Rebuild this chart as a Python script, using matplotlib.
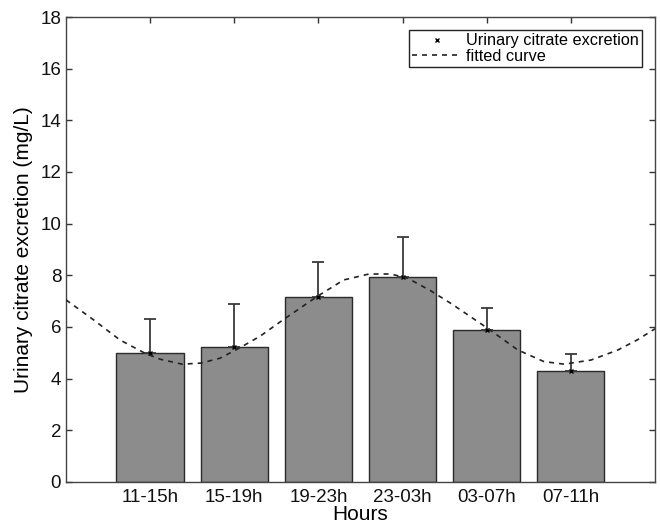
import numpy as np
import matplotlib
matplotlib.use('Agg')
import matplotlib.pyplot as plt

plt.rcParams['font.family'] = ['Liberation Sans', 'DejaVu Sans']

# bar data
hours = ['11-15h', '15-19h', '19-23h', '23-03h', '03-07h', '07-11h']
citrate_mean = [5.00, 5.24, 7.17, 7.95, 5.88, 4.29]
citrate_err = [1.30, 1.66, 1.35, 1.53, 0.84, 0.68]

# fitted curve, points
curve_x = [0.0, 0.33, 0.64, 0.94, 1.12, 1.38, 1.60, 1.83, 2.07, 2.31, 2.59, 2.98, 3.30,
           3.60, 3.86, 4.06, 4.33, 4.59, 5.01, 5.37, 5.68, 5.92, 6.24, 6.56, 6.79, 7.0]
curve_y = [7.05, 6.27, 5.50, 4.98, 4.75, 4.56, 4.60, 4.79, 5.20, 5.65, 6.30, 7.17, 7.82,
           8.05, 8.05, 7.89, 7.41, 6.88, 5.95, 5.11, 4.66, 4.56, 4.72, 5.11, 5.50, 5.93]

fig = plt.figure(figsize=(6.6, 5.25), dpi=100)
ax = fig.add_axes([0.1, 0.082, 0.8924, 0.8856])

x = np.arange(1, len(hours) + 1)
ax.bar(x, citrate_mean, width=0.8, color='#8c8c8c', edgecolor='#2a2a2a', linewidth=1.0, zorder=2)
# upper error bars only
ax.errorbar(x, citrate_mean, yerr=[np.zeros(len(x)), citrate_err], fmt='none',
            ecolor='#3a3a3a', elinewidth=1.3, capsize=4, capthick=1.3, zorder=3)
ax.plot(x, citrate_mean, 'x', color='black', markersize=3, markeredgewidth=1.0,
        label='Urinary citrate excretion', zorder=4)
ax.plot(curve_x, curve_y, '--', color='#222222', linewidth=1.2, dashes=(3, 3),
        label='fitted curve', zorder=4)

ax.set_xlim(0, 7)
ax.set_ylim(0, 18)
ax.set_xticks(x)
ax.set_xticklabels(hours)
ax.set_yticks(np.arange(0, 19, 2))
ax.tick_params(axis='both', direction='in', length=4, width=1, labelsize=13.5,
               top=True, right=True, colors='#333333', labelcolor='#111111')
ax.tick_params(axis='x', pad=5)
for s in ax.spines.values():
    s.set_color('#444444')
    s.set_linewidth(1.0)

ax.set_xlabel('Hours', fontsize=15, labelpad=-1)
ax.set_ylabel('Urinary citrate excretion (mg/L)', fontsize=15, labelpad=5)

leg = ax.legend(loc='upper right', fontsize=11.7, frameon=True, fancybox=False,
                framealpha=1, edgecolor='#222222', handlelength=3.0, handletextpad=0.3,
                borderpad=0.2, labelspacing=0.05, borderaxespad=0.8, markerscale=1.2)
leg.get_frame().set_linewidth(1.0)

plt.savefig('out.png', dpi=100)
